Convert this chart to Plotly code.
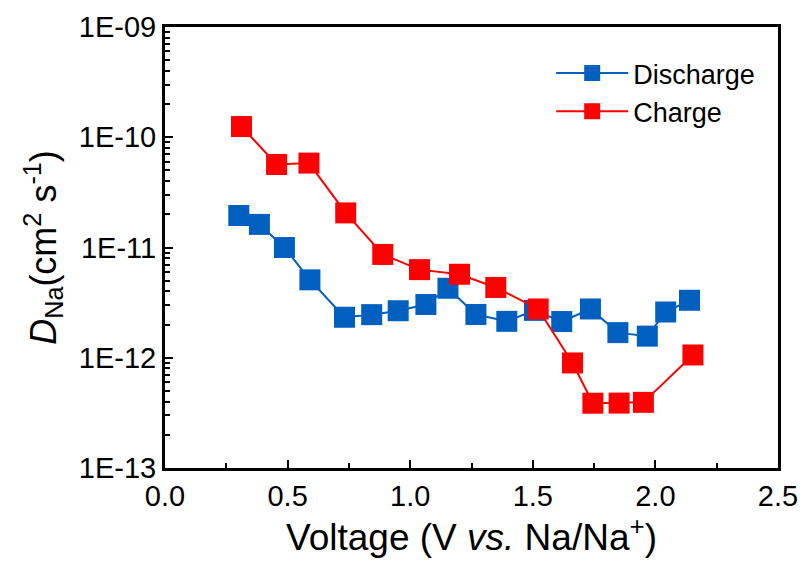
import plotly.graph_objects as go

# Data
discharge_v = [0.301, 0.385, 0.487, 0.591, 0.732, 0.843, 0.951, 1.064, 1.154, 1.268,
               1.394, 1.507, 1.618, 1.735, 1.847, 1.967, 2.042, 2.139]
discharge_d = [1.95e-11, 1.62e-11, 1.00e-11, 5.09e-12, 2.33e-12, 2.46e-12, 2.67e-12, 3.04e-12,
               4.27e-12, 2.47e-12, 2.14e-12, 2.69e-12, 2.13e-12, 2.77e-12, 1.69e-12, 1.57e-12,
               2.60e-12, 3.32e-12]
charge_v = [0.312, 0.455, 0.587, 0.737, 0.888, 1.038, 1.201, 1.349, 1.522, 1.662,
            1.745, 1.852, 1.951, 2.153]
charge_d = [1.25e-10, 5.66e-11, 5.83e-11, 2.06e-11, 8.65e-12, 6.30e-12, 5.72e-12, 4.34e-12,
            2.77e-12, 8.97e-13, 3.87e-13, 3.88e-13, 3.94e-13, 1.06e-12]

y_tickvals = [1e-13, 1e-12, 1e-11, 1e-10, 1e-9]
y_ticktext = ["1E-13", "1E-12", "1E-11", "1E-10", "1E-09"]
x_tickvals = [0.0, 0.5, 1.0, 1.5, 2.0, 2.5]
x_ticktext = ["0.0", "0.5", "1.0", "1.5", "2.0", "2.5"]

BLUE = "#005FBF"
RED = "#FF0000"
FONT = "Liberation Sans, Arial, sans-serif"

y_minor = [m * 10.0 ** e for e in range(-13, -9) for m in range(2, 10)]

fig = go.Figure()
fig.add_trace(go.Scatter(
    x=discharge_v, y=discharge_d, name="Discharge", mode="lines+markers",
    line=dict(color=BLUE, width=2),
    marker=dict(symbol="square", size=21, color=BLUE, line=dict(width=0)),
))
fig.add_trace(go.Scatter(
    x=charge_v, y=charge_d, name="Charge", mode="lines+markers",
    line=dict(color=RED, width=2),
    marker=dict(symbol="square", size=21, color=RED, line=dict(width=0)),
))

fig.update_layout(
    width=806, height=563,
    margin=dict(l=165, r=28, t=27, b=95, autoexpand=False),
    paper_bgcolor="white", plot_bgcolor="white",
    font=dict(family=FONT, color="black", size=29),
    showlegend=True,
    legend=dict(x=0.63, y=0.95, xanchor="left", yanchor="top",
                bgcolor="rgba(0,0,0,0)", font=dict(size=27, family=FONT),
                itemwidth=72, tracegroupgap=0),
)
fig.update_xaxes(
    range=[0, 2.5], tickmode="array", tickvals=x_tickvals, ticktext=x_ticktext,
    ticks="inside", ticklen=8, tickwidth=2, tickcolor="black",
    minor=dict(ticks="inside", ticklen=5, tickwidth=2, tickcolor="black",
               tickmode="array", tickvals=[0.25, 0.75, 1.25, 1.75, 2.25]),
    showline=True, linewidth=3, linecolor="black", mirror=True,
    showgrid=False, zeroline=False, automargin=False,
    tickfont=dict(size=29, family=FONT),
    title=dict(text="Voltage (V <i>vs.</i> Na/Na<sup>+</sup>)",
               font=dict(size=37, family=FONT), standoff=10),
)
fig.update_yaxes(
    type="log", range=[-13, -9], tickmode="array", tickvals=y_tickvals, ticktext=y_ticktext,
    ticks="inside", ticklen=8, tickwidth=2, tickcolor="black",
    minor=dict(ticks="inside", ticklen=5, tickwidth=2, tickcolor="black",
               tickmode="array", tickvals=y_minor),
    showline=True, linewidth=3, linecolor="black", mirror=True,
    showgrid=False, zeroline=False, automargin=False,
    tickfont=dict(size=29, family=FONT),
    title=dict(text="<i>D</i><sub>Na</sub>(cm<sup>2</sup> s<sup>-1</sup>)",
               font=dict(size=36, family=FONT), standoff=12),
)

fig.write_html("out.html")
